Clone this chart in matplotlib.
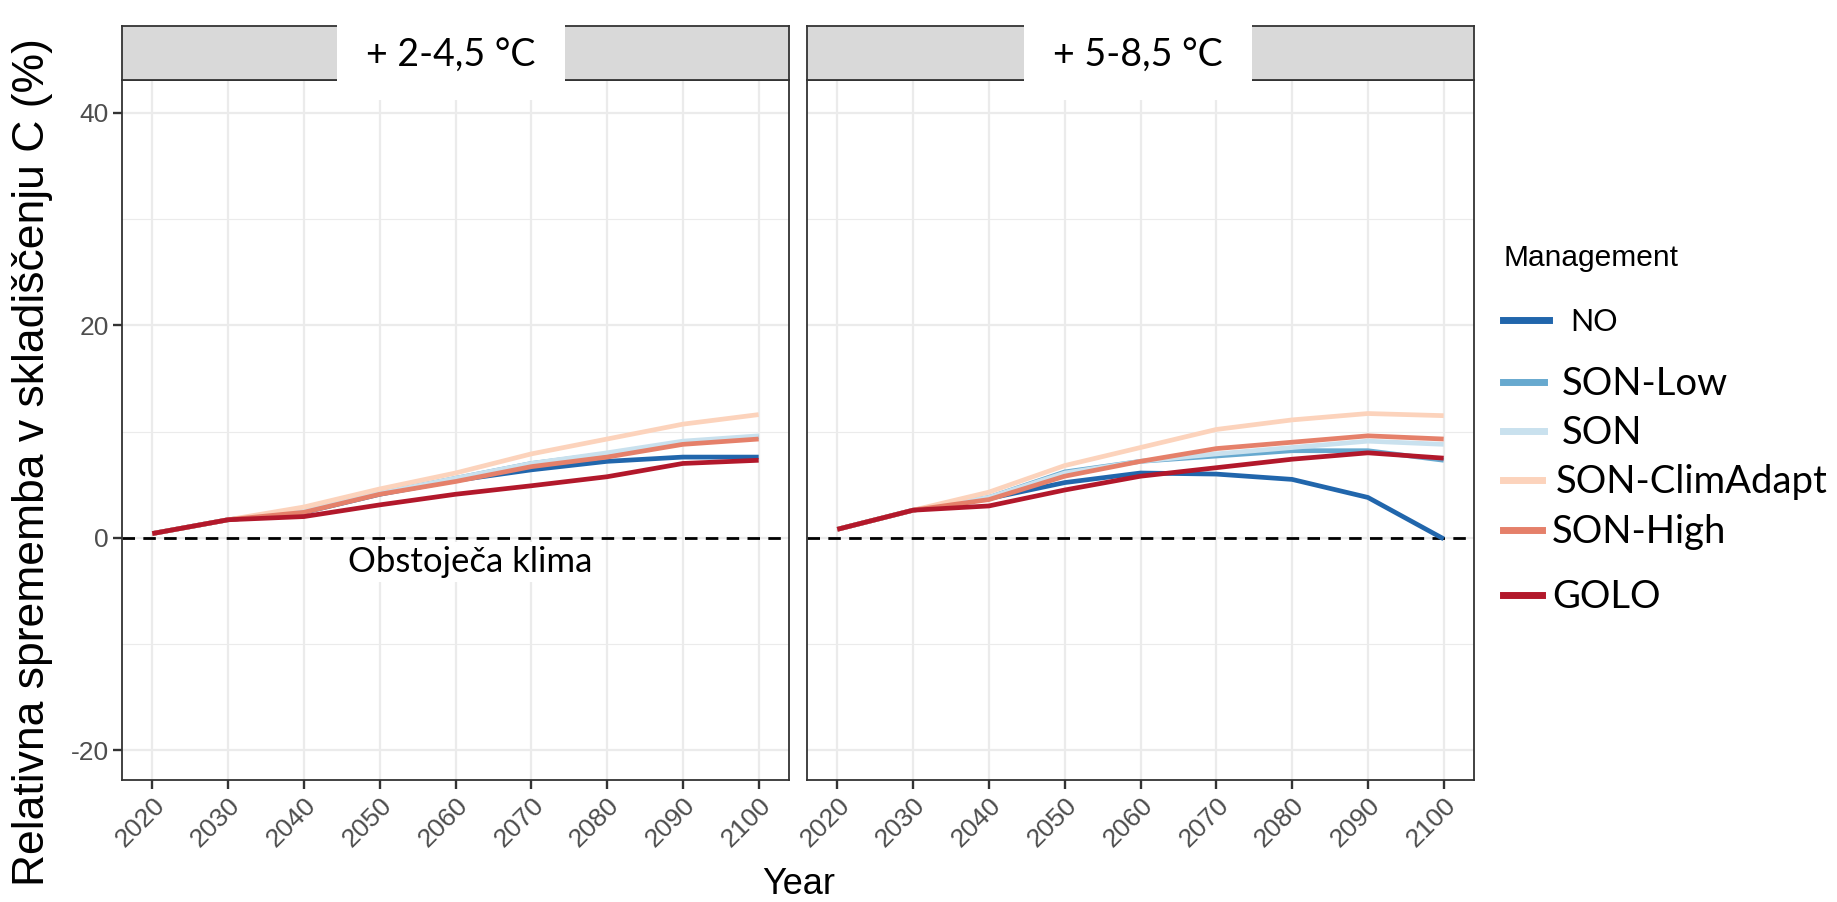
import matplotlib
matplotlib.use("Agg")
import matplotlib.pyplot as plt
from matplotlib.patches import Rectangle
from matplotlib.lines import Line2D
from matplotlib import font_manager

# podatki
years = [2020, 2030, 2040, 2050, 2060, 2070, 2080, 2090, 2100]
management = ["NO", "SON-Low", "SON", "SON-ClimAdapt", "SON-High", "GOLO"]
colors = ["#2166AC", "#67A9CF", "#C9E1EE", "#FCD3BC", "#E5806A", "#B2182B"]
panel_titles = ["+ 2-4,5 °C", "+ 5-8,5 °C"]

low_no = [0.4, 1.7, 2.4, 4.1, 5.4, 6.4, 7.2, 7.6, 7.6]
low_son_low = [0.4, 1.7, 2.5, 4.2, 5.6, 7.0, 7.9, 9.0, 9.5]
low_son = [0.4, 1.7, 2.5, 4.2, 5.6, 7.0, 8.0, 9.1, 9.6]
low_clim = [0.4, 1.7, 2.9, 4.6, 6.1, 7.9, 9.3, 10.7, 11.6]
low_high = [0.4, 1.7, 2.4, 4.1, 5.3, 6.7, 7.6, 8.8, 9.3]
low_golo = [0.4, 1.7, 2.0, 3.1, 4.1, 4.9, 5.75, 7.0, 7.3]

high_no = [0.8, 2.6, 3.7, 5.2, 6.1, 6.0, 5.5, 3.8, -0.1]
high_son_low = [0.8, 2.6, 3.8, 6.2, 7.2, 7.7, 8.2, 8.2, 7.3]
high_son = [0.8, 2.6, 3.8, 6.1, 7.2, 7.9, 8.5, 9.1, 8.8]
high_clim = [0.8, 2.6, 4.3, 6.8, 8.5, 10.2, 11.1, 11.7, 11.5]
high_high = [0.8, 2.6, 3.6, 5.8, 7.2, 8.4, 9.0, 9.6, 9.3]
high_golo = [0.8, 2.6, 3.0, 4.5, 5.8, 6.6, 7.4, 8.0, 7.5]

panels = [
    [low_no, low_son_low, low_son, low_clim, low_high, low_golo],
    [high_no, high_son_low, high_son, high_clim, high_high, high_golo],
]
yticks = [-20, 0, 20, 40]


def pick_font(names):
    avail = {f.name for f in font_manager.fontManager.ttflist}
    for n in names:
        if n in avail:
            return n
    return "DejaVu Sans"


gg_font = pick_font(["Liberation Sans", "DejaVu Sans"])
cal_font = pick_font(["Lato", "Open Sans"])

W, H = 1837, 902
fig = plt.figure(figsize=(W / 100, H / 100), dpi=100)


def fx(px):
    return px / W


def fy(py):
    return 1 - py / H


ax_left = [122, 807]
ax_w = 667
ax_top, ax_bot = 80, 780
strip_top = 26

axes = []
for i, vals in enumerate(panels):
    ax = fig.add_axes([fx(ax_left[i]), fy(ax_bot), fx(ax_w), (ax_bot - ax_top) / H])
    axes.append(ax)
    ax.set_xlim(2016, 2104)
    ax.set_ylim(-22.8, 43.1)
    ax.set_xticks(years)
    ax.set_yticks(yticks)
    ax.set_yticks([-10, 10, 30], minor=True)
    ax.grid(which="major", color="#EBEBEB", lw=1.6)
    ax.grid(which="minor", axis="y", color="#EBEBEB", lw=0.8)
    ax.set_axisbelow(True)
    for s in ax.spines.values():
        s.set_color("#333333")
        s.set_linewidth(1.3)
    ax.tick_params(colors="#333333", length=6.5, width=1.7, which="major", pad=3)
    ax.tick_params(which="minor", length=0)
    ax.set_xticklabels([str(y) for y in years], rotation=45, ha="right",
                       rotation_mode="anchor", color="#4D4D4D",
                       fontsize=19, family=gg_font)
    if i == 0:
        ax.set_yticklabels([str(y) for y in yticks], color="#4D4D4D",
                           fontsize=19, family=gg_font)
    else:
        ax.set_yticklabels([])
        ax.tick_params(axis="y", length=0)

    ax.axhline(0, color="black", lw=2.0, ls=(0, (4.5, 3)), zorder=1)
    for name, col, v in zip(management, colors, vals):
        ax.plot(years, v, color=col, lw=3.4, solid_capstyle="butt", zorder=2)

    # strip
    sx = fig.add_axes([fx(ax_left[i]), fy(ax_top), fx(ax_w), (ax_top - strip_top) / H])
    sx.set_facecolor("#D9D9D9")
    sx.set_xticks([])
    sx.set_yticks([])
    for s in sx.spines.values():
        s.set_color("#333333")
        s.set_linewidth(1.3)

axes[0].text(2062, -2.3, "Obstoječa klima", ha="center", va="center",
             fontsize=25, family=cal_font,
             bbox=dict(facecolor="white", edgecolor="none", pad=3), zorder=3)

# bele podlage za naslove panelov
boxes = [(337, 565), (1024, 1252)]
for (x0, x1), t in zip(boxes, panel_titles):
    fig.patches.append(Rectangle((fx(x0), fy(100)), fx(x1 - x0), (100 - 20) / H,
                                 transform=fig.transFigure, facecolor="white",
                                 edgecolor="none", zorder=5))
    fig.text(fx((x0 + x1) / 2), fy(55), t, ha="center", va="center",
             fontsize=27, family=cal_font, zorder=6)

fig.text(fx(799), fy(885), "Year", ha="center", va="center",
         fontsize=26, family=gg_font)
fig.text(fx(33), fy(462), "Relativna sprememba v skladiščenju C (%)",
         rotation=90, ha="center", va="center", fontsize=32, family=gg_font)

# legenda
fig.text(fx(1503), fy(258), "Management", ha="left", va="center",
         fontsize=21.5, family=gg_font)
leg_y = [320, 382, 431, 480, 530, 595]
leg_x1 = [1549, 1544, 1544, 1542, 1542, 1542]
leg_tx = [1570, 1562, 1562, 1556, 1552, 1552]
for name, col, y, x1, tx in zip(management, colors, leg_y, leg_x1, leg_tx):
    fig.add_artist(Line2D([fx(1503), fx(x1)], [fy(y), fy(y)], color=col,
                          lw=5, transform=fig.transFigure))
    fig.text(fx(tx), fy(y + 2), name, ha="left", va="center",
             fontsize=27.5 if name != "NO" else 22, family=cal_font)

fig.savefig("out.png", dpi=100)
